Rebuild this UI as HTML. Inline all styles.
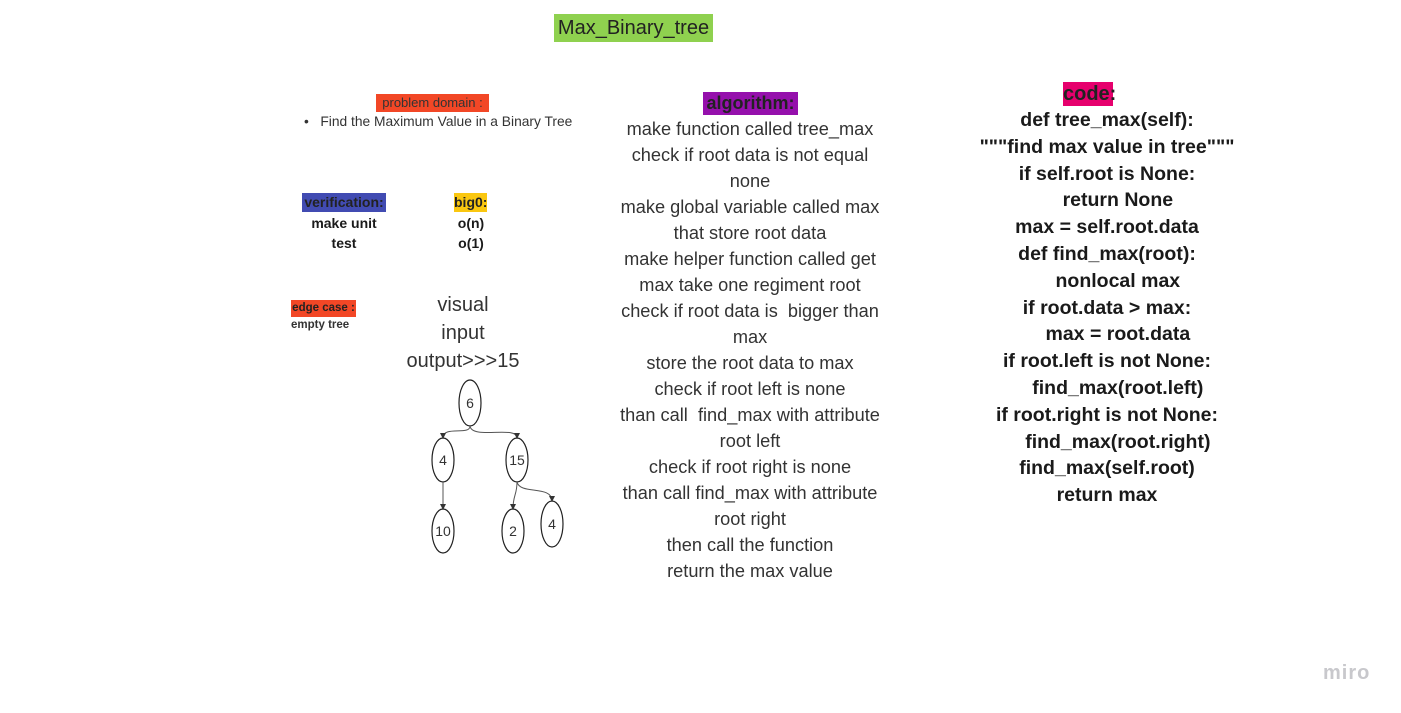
<!DOCTYPE html>
<html><head><meta charset="utf-8"><style>
body{margin:0;width:1401px;height:713px;background:#fff;position:relative;overflow:hidden;font-family:"Liberation Sans",sans-serif;color:#1a1a1a}
.a{position:absolute;white-space:nowrap}
.c{text-align:center;transform:translateX(-50%)}
</style></head><body>
<div class="a" style="left:554px;top:14px;width:159px;height:28px;background:#8fd14f;font-size:20px;line-height:28px;text-align:center;color:#222">Max_Binary_tree</div>

<div class="a" style="left:376px;top:94px;width:113px;height:18px;background:#f24726;font-size:13px;line-height:18px;text-align:center;color:#333">problem domain :</div>
<div class="a" style="left:304px;top:114px;font-size:13.8px;color:#333">•&nbsp;&nbsp; Find the Maximum Value in a Binary Tree</div>

<div class="a" style="left:302px;top:193px;width:84px;height:19px;background:#414bb2;font-size:14px;font-weight:bold;line-height:19px;text-align:center;color:#222">verification:</div>
<div class="a c" style="left:344px;top:213px;font-size:14px;font-weight:bold;line-height:20px;text-align:center">make unit<br>test</div>
<div class="a" style="left:454px;top:193px;width:33px;height:19px;background:#fac710;font-size:14px;font-weight:bold;line-height:19px;text-align:center;color:#222">big0:</div>
<div class="a c" style="left:471px;top:213px;font-size:14px;font-weight:bold;line-height:20px;text-align:center">o(n)<br>o(1)</div>

<div class="a" style="left:291px;top:300px;width:65px;height:17px;background:#f24726;font-size:11.5px;font-weight:bold;line-height:17px;text-align:center;color:#222">edge case :</div>
<div class="a" style="left:291px;top:319px;font-size:11.5px;font-weight:bold;color:#333">empty tree</div>

<div class="a c" style="left:463px;top:291px;font-size:20px;line-height:28px;text-align:center;color:#333">visual<br>input<br>output&gt;&gt;&gt;15</div>

<svg class="a" style="left:0;top:0" width="1401" height="713">
<defs><marker id="m" markerWidth="6" markerHeight="6" refX="5" refY="3" orient="auto"><path d="M0,0L6,3L0,6z" fill="#333"/></marker></defs>
<g fill="none" stroke="#222" stroke-width="1.2">
<ellipse cx="470" cy="403" rx="11" ry="23"/>
<ellipse cx="443" cy="460" rx="11" ry="22"/>
<ellipse cx="517" cy="460" rx="11" ry="22"/>
<ellipse cx="443" cy="531" rx="11" ry="22"/>
<ellipse cx="513" cy="531" rx="11" ry="22"/>
<ellipse cx="552" cy="524" rx="11" ry="23"/>
</g>
<g fill="none" stroke="#555" stroke-width="1" marker-end="url(#m)">
<path d="M470,426 C470,436 443,425 443,438"/>
<path d="M470,426 C472,440 517,425 517,438"/>
<path d="M443,482 L443,509"/>
<path d="M517,482 C517,495 513,495 513,509"/>
<path d="M517,482 C520,495 552,485 552,501"/>
</g>
<g font-family="Liberation Sans,sans-serif" font-size="14" fill="#333" text-anchor="middle">
<text x="470" y="408">6</text><text x="443" y="465">4</text><text x="517" y="465">15</text>
<text x="443" y="536">10</text><text x="513" y="536">2</text><text x="552" y="529">4</text>
</g>
</svg>

<div class="a" style="left:703px;top:92px;width:95px;height:23px;background:#9510ac;font-size:18px;font-weight:bold;line-height:23px;text-align:center;color:#222">algorithm:</div>
<div class="a c" style="left:750px;top:116px;font-size:18.2px;line-height:26px;text-align:center;color:#333">make function called tree_max<br>check if root data is not equal<br>none<br>make global variable called max<br>that store root data<br>make helper function called get<br>max take one regiment root<br>check if root data is&nbsp; bigger than<br>max<br>store the root data to max<br>check if root left is none<br>than call&nbsp; find_max with attribute<br>root left<br>check if root right is none<br>than call find_max with attribute<br>root right<br>then call the function<br>return the max value</div>

<div class="a" style="left:1063px;top:82px;width:50px;height:24px;background:#e6006d;font-size:20px;font-weight:bold;line-height:24px;text-align:center;color:#222">code:</div>
<div class="a c" style="left:1107px;top:107px;font-size:19.5px;font-weight:bold;line-height:26.8px;text-align:center;color:#1a1a1a">def tree_max(self):<br>"""find max value in tree"""<br>if self.root is None:<br>&nbsp;&nbsp;&nbsp;&nbsp;return None<br>max = self.root.data<br>def find_max(root):<br>&nbsp;&nbsp;&nbsp;&nbsp;nonlocal max<br>if root.data &gt; max:<br>&nbsp;&nbsp;&nbsp;&nbsp;max = root.data<br>if root.left is not None:<br>&nbsp;&nbsp;&nbsp;&nbsp;find_max(root.left)<br>if root.right is not None:<br>&nbsp;&nbsp;&nbsp;&nbsp;find_max(root.right)<br>find_max(self.root)<br>return max</div>

<div class="a" style="left:1323px;top:662px;font-size:20px;font-weight:bold;color:#c8c8cc;letter-spacing:1px">miro</div>
</body></html>
